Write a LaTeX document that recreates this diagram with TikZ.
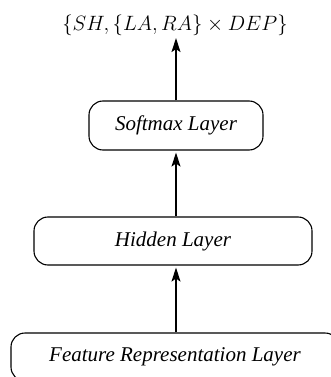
\documentclass[tikz,border=0pt]{standalone}
\usepackage{fontspec}
\setmainfont{Liberation Serif}
\usetikzlibrary{arrows.meta}
\begin{document}
\begin{tikzpicture}[x=1pt,y=-1pt,
  layerbox/.style={draw, line width=1.1pt, rounded corners=14pt, inner sep=0pt,
    font=\fontsize{21}{25}\selectfont\itshape},
  flow/.style={line width=1.3pt, -{Stealth[length=14pt,width=9pt,inset=3pt]}, shorten >=2pt}
]
\useasboundingbox (0,0) rectangle (331,377);
\node[inner sep=0.5pt] (out) at (175,25) {\fontsize{21}{25}\selectfont$\{SH,\{LA,RA\}\times DEP\}$};
\node[layerbox, minimum width=174pt, minimum height=49pt] (soft) at (176,125.5) {Softmax Layer};
\node[layerbox, minimum width=278pt, minimum height=48pt] (hid) at (173,241) {Hidden Layer};
\node[layerbox, minimum width=328pt, minimum height=48pt] (feat) at (175,357) {Feature Representation Layer};
\draw[flow] (soft.north -| 176,0) -- (out.south -| 176,0);
\draw[flow] (hid.north -| 176,0) -- (soft.south -| 176,0);
\draw[flow] (feat.north -| 176,0) -- (hid.south -| 176,0);
\end{tikzpicture}
\end{document}
